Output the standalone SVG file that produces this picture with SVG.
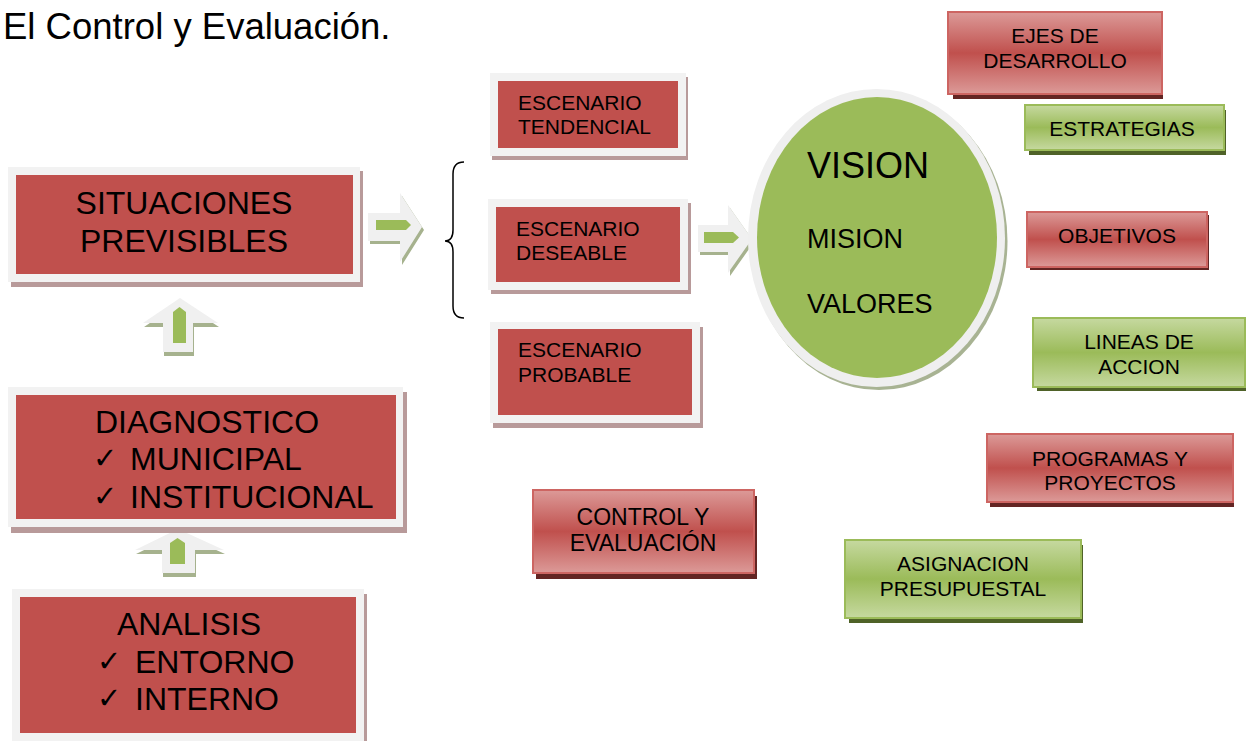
<svg xmlns="http://www.w3.org/2000/svg" width="1246" height="741" viewBox="0 0 1246 741">
<defs>
<linearGradient id="gRed" x1="0" y1="0" x2="0" y2="1">
<stop offset="0" stop-color="#dc9a98"/><stop offset="0.5" stop-color="#c0504d"/><stop offset="1" stop-color="#dc9a98"/>
</linearGradient>
<linearGradient id="gGreen" x1="0" y1="0" x2="0" y2="1">
<stop offset="0" stop-color="#c6d9a0"/><stop offset="0.5" stop-color="#9bbb59"/><stop offset="1" stop-color="#c6d9a0"/>
</linearGradient>
</defs>
<style>
text{font-family:"Liberation Sans",Arial,sans-serif;fill:#000}
.ck{font-family:"DejaVu Sans",sans-serif;font-size:29px}
.frame{fill:#f2f2f2}
.fshadow{fill:#b89a9a}
.red{fill:#c0504d}
.rbox{fill:url(#gRed);stroke:#cd6562;stroke-width:2}
.gbox{fill:url(#gGreen);stroke:#9bbb59;stroke-width:2}
.rsh{fill:#632523}
.gsh{fill:#4f6228}
.ash{fill:#a6b28e}
.afr{fill:#f0f0f0}
.ain{fill:#9bbb59}
.big{font-size:32px}
.mid{font-size:21px}
</style>

<text x="3" y="39" font-size="36.5">El Control y Evaluación.</text>

<g id="connectors">
<g id="arrow-situaciones-escenarios">
<polygon class="ash" points="370,216 402,216 402,196 424,230 402,265 402,244 370,244"/>
<polygon class="afr" points="368,213 400,213 400,193 422,227 400,262 400,241 368,241"/>
<polygon class="ain" points="376,220 406,220 411,225 406,230 376,230"/>
</g>
<path id="brace" d="M464,162 C456,162 453,166 453,174 L453,230 C453,237 450,241 445,241 C450,241 453,245 453,252 L453,306 C453,314 456,318 464,318" fill="none" stroke="#000" stroke-width="1.5"/>
<g id="arrow-deseable-vision">
<polygon class="ash" points="700,228 730,228 730,208 754,242 730,276 730,255 700,255"/>
<polygon class="afr" points="698,225 728,225 728,205 752,239 728,273 728,252 698,252"/>
<polygon class="ain" points="704,232 733,232 739,237.5 733,243 704,243"/>
</g>
<g id="arrow-diagnostico-situaciones">
<polygon class="ash" points="181,302 219,327 194,327 194,356 164,356 164,327 144,327"/>
<polygon class="afr" points="180,298 218,323 193,323 193,352 163,352 163,323 143,323"/>
<polygon class="ain" points="173,312 179.5,307 186,312 186,343 173,343"/>
</g>
<g id="arrow-analisis-diagnostico">
<polygon class="ash" points="179,533 225,554 196,554 196,577 163,577 163,554 136,554"/>
<polygon class="afr" points="178,529 224,550 195,550 195,573 162,573 162,550 135,550"/>
<polygon class="ain" points="170,543 177.5,538 185,543 185,564 170,564"/>
</g>
</g>

<g id="node-situaciones">
<rect class="fshadow" x="11" y="171" width="352" height="116"/>
<rect class="frame" x="8" y="167" width="352" height="115"/>
<rect class="red" x="16" y="175" width="337" height="99"/>
<text class="big" x="184" y="214" text-anchor="middle">SITUACIONES</text>
<text class="big" x="184" y="252" text-anchor="middle">PREVISIBLES</text>
</g>

<g id="node-diagnostico">
<rect class="fshadow" x="11" y="392" width="396" height="141"/>
<rect class="frame" x="8" y="387" width="395" height="140"/>
<rect class="red" x="16" y="395" width="380" height="124"/>
<text class="big" x="95" y="433">DIAGNOSTICO</text>
<text class="ck" x="93" y="468">✓</text>
<text class="big" x="130" y="470">MUNICIPAL</text>
<text class="ck" x="93" y="506">✓</text>
<text class="big" x="130" y="508">INSTITUCIONAL</text>
</g>

<g id="node-analisis">
<rect class="fshadow" x="15" y="594" width="352" height="152"/>
<rect class="frame" x="12" y="589" width="352" height="152"/>
<rect class="red" x="20" y="597" width="336" height="136"/>
<text class="big" x="117" y="635">ANALISIS</text>
<text class="ck" x="97" y="671">✓</text>
<text class="big" x="135" y="673">ENTORNO</text>
<text class="ck" x="97" y="708">✓</text>
<text class="big" x="135" y="710">INTERNO</text>
</g>

<g id="node-tendencial">
<rect class="fshadow" x="492" y="77" width="196" height="83"/>
<rect class="frame" x="490" y="73" width="196" height="83"/>
<rect class="red" x="498" y="81" width="180" height="67"/>
<text class="mid" x="518" y="110">ESCENARIO</text>
<text class="mid" x="518" y="134">TENDENCIAL</text>
</g>

<g id="node-deseable">
<rect class="fshadow" x="491" y="203" width="200" height="91"/>
<rect class="frame" x="488" y="199" width="200" height="91"/>
<rect class="red" x="496" y="207" width="184" height="75"/>
<text class="mid" x="516" y="236">ESCENARIO</text>
<text class="mid" x="516" y="260">DESEABLE</text>
</g>

<g id="node-probable">
<rect class="fshadow" x="493" y="327" width="210" height="101"/>
<rect class="frame" x="490" y="322" width="210" height="101"/>
<rect class="red" x="498" y="329" width="194" height="86"/>
<text class="mid" x="518" y="357">ESCENARIO</text>
<text class="mid" x="518" y="382">PROBABLE</text>
</g>

<g id="node-vision">
<ellipse cx="879" cy="241" rx="128.5" ry="149" fill="#a8b393"/>
<ellipse cx="876.5" cy="238" rx="128.5" ry="149" fill="#efefef"/>
<ellipse cx="877" cy="237.5" rx="120" ry="140.5" fill="#9bbb59"/>
<text x="807" y="178" font-size="36">VISION</text>
<text x="807" y="248" font-size="27">MISION</text>
<text x="807" y="313" font-size="27">VALORES</text>
</g>

<g id="node-ejes">
<rect class="rsh" x="953" y="17" width="210" height="82"/>
<rect class="rbox" x="948" y="12" width="214" height="82"/>
<text class="mid" x="1055" y="43" text-anchor="middle">EJES DE</text>
<text class="mid" x="1055" y="68" text-anchor="middle">DESARROLLO</text>
</g>

<g id="node-estrategias">
<rect class="gsh" x="1029" y="110" width="197" height="45"/>
<rect class="gbox" x="1025" y="105" width="199" height="45"/>
<text class="mid" x="1122" y="136" text-anchor="middle">ESTRATEGIAS</text>
</g>

<g id="node-objetivos">
<rect class="rsh" x="1030" y="215" width="179" height="55"/>
<rect class="rbox" x="1027" y="212" width="180" height="55"/>
<text class="mid" x="1117" y="243" text-anchor="middle">OBJETIVOS</text>
</g>

<g id="node-lineas">
<rect class="gsh" x="1037" y="322" width="212" height="69"/>
<rect class="gbox" x="1033" y="318" width="212" height="69"/>
<text class="mid" x="1139" y="349" text-anchor="middle">LINEAS DE</text>
<text class="mid" x="1139" y="374" text-anchor="middle">ACCION</text>
</g>

<g id="node-programas">
<rect class="rsh" x="990" y="439" width="244" height="68"/>
<rect class="rbox" x="987" y="434" width="246" height="68"/>
<text class="mid" x="1110" y="466" text-anchor="middle">PROGRAMAS Y</text>
<text class="mid" x="1110" y="490" text-anchor="middle">PROYECTOS</text>
</g>

<g id="node-asignacion">
<rect class="gsh" x="849" y="545" width="234" height="78"/>
<rect class="gbox" x="845" y="540" width="236" height="78"/>
<text class="mid" x="963" y="571" text-anchor="middle">ASIGNACION</text>
<text class="mid" x="963" y="596" text-anchor="middle">PRESUPUESTAL</text>
</g>

<g id="node-control">
<rect class="rsh" x="536" y="496" width="221" height="83"/>
<rect class="rbox" x="533" y="490" width="221" height="83"/>
<text x="643" y="525" font-size="23" text-anchor="middle">CONTROL Y</text>
<text x="643" y="551" font-size="23" text-anchor="middle">EVALUACIÓN</text>
</g>
</svg>
